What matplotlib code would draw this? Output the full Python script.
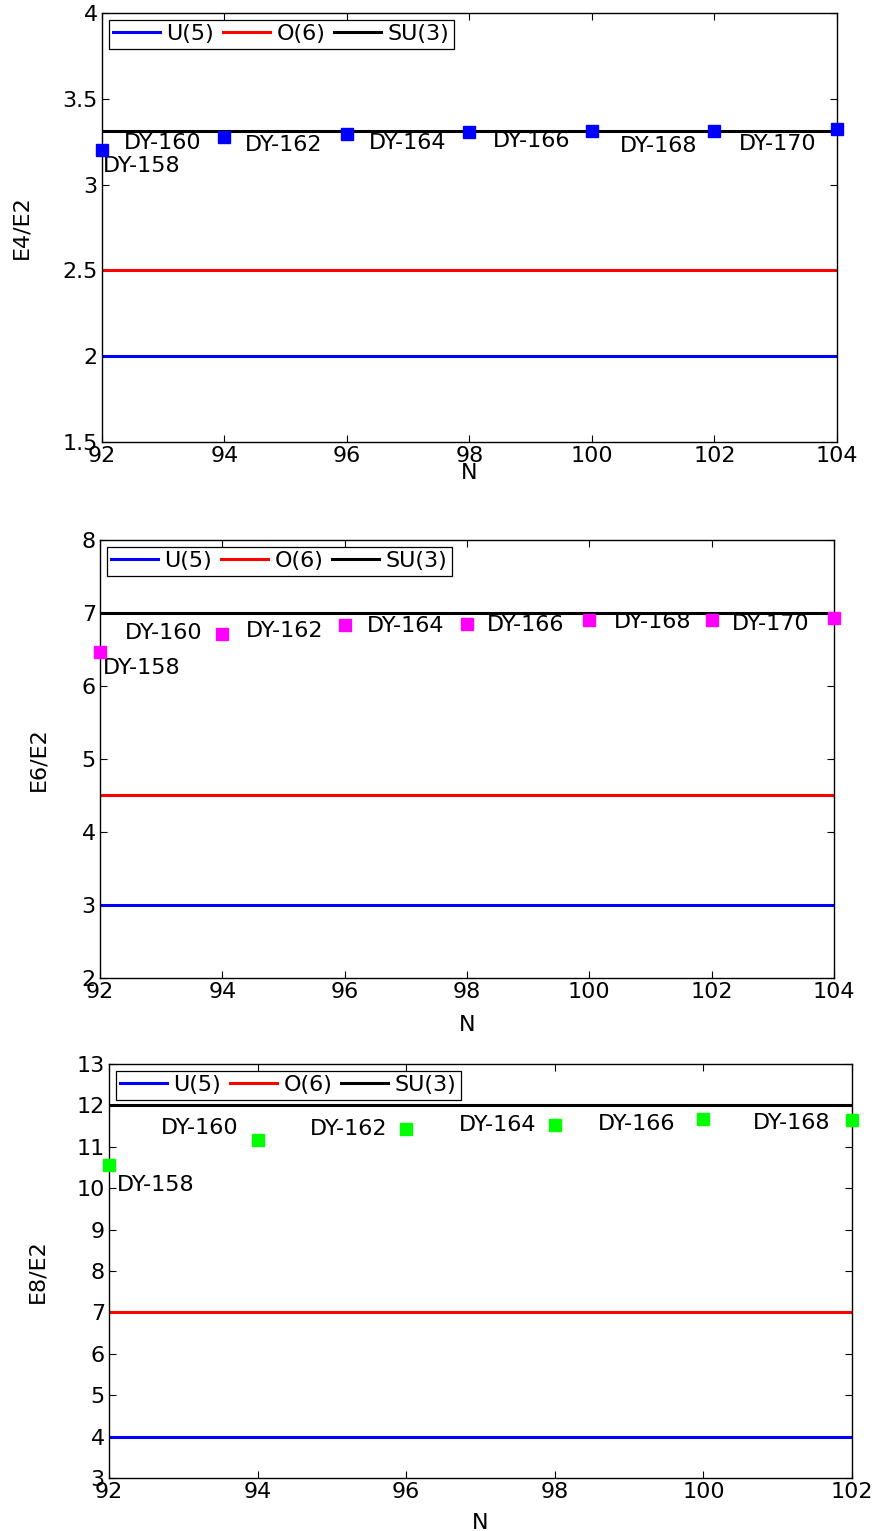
import matplotlib
matplotlib.use("Agg")
import matplotlib.pyplot as plt
import numpy

plt.rcParams['font.family'] = ['DejaVu Sans']
plt.rcParams['font.size'] = 16

# neutron number and limits
N_a = [92, 94, 96, 98, 100, 102, 104]
N_b = [92, 94, 96, 98, 100, 102]
names_a = ['DY-158', 'DY-160', 'DY-162', 'DY-164', 'DY-166', 'DY-168', 'DY-170']
names_b = ['DY-158', 'DY-160', 'DY-162', 'DY-164', 'DY-166', 'DY-168']

# E4/E2
r42 = [3.20, 3.276, 3.297, 3.307, 3.315, 3.31, 3.324]
lim42 = {'U(5)': 2.0, 'O(6)': 2.5, 'SU(3)': 3.31}
lab42_x = [92.02, 92.36, 94.34, 96.35, 98.38, 100.45, 102.4]
lab42_y = [3.107, 3.243, 3.229, 3.243, 3.252, 3.223, 3.239]

# E6/E2
r62 = [6.47, 6.71, 6.83, 6.845, 6.90, 6.90, 6.93]
lim62 = {'U(5)': 3.0, 'O(6)': 4.5, 'SU(3)': 7.0}
lab62_x = [92.05, 92.4, 94.39, 96.36, 98.32, 100.4, 102.33]
lab62_y = [6.24, 6.72, 6.76, 6.82, 6.84, 6.87, 6.85]

# E8/E2
r82 = [10.56, 11.16, 11.44, 11.52, 11.68, 11.66]
lim82 = {'U(5)': 4.0, 'O(6)': 7.0, 'SU(3)': 12.0}
lab82_x = [92.11, 92.7, 94.7, 96.71, 98.58, 100.67]
lab82_y = [10.08, 11.46, 11.44, 11.52, 11.56, 11.58]

line_colors = {'U(5)': 'blue', 'O(6)': 'red', 'SU(3)': 'black'}

fig = plt.figure(figsize=(8.76, 15.31), dpi=100)


def panel(rect, N, ratio, limits, lab_x, lab_y, names, mcolor, ylim, yticks,
          yticklabels, ylabel, ylab_x, xlab_y):
    ax = fig.add_axes(rect)
    for key in ['U(5)', 'O(6)', 'SU(3)']:
        ax.plot(N, [limits[key]] * len(N), color=line_colors[key], lw=2.2, label=key)
    ax.plot(N, ratio, 's', color=mcolor, ms=8.5, mec=mcolor, clip_on=False, zorder=5)
    for x, y, t in zip(lab_x, lab_y, names):
        ax.text(x, y, t, ha='left', va='center', fontsize=16)
    ax.set_xlim(N[0], N[-1])
    ax.set_ylim(*ylim)
    ax.set_xticks(N)
    ax.set_yticks(yticks)
    ax.set_yticklabels(yticklabels)
    ax.tick_params(direction='in', top=True, right=True, length=5, width=0.8,
                   labelsize=16, pad=3)
    for s in ax.spines.values():
        s.set_linewidth(1.0)
    ax.set_xlabel('N', fontsize=16)
    ax.set_ylabel(ylabel, fontsize=16)
    ax.yaxis.set_label_coords(ylab_x, 0.5)
    ax.xaxis.set_label_coords(0.5, xlab_y)
    leg = ax.legend(loc='upper left', ncol=3, fontsize=16, handlelength=2.1,
                    handletextpad=0.3, columnspacing=0.4, borderpad=0.2,
                    borderaxespad=0.3, fancybox=False, framealpha=1)
    leg.get_frame().set_edgecolor('black')
    leg.get_frame().set_linewidth(0.9)
    return ax


panel([0.1164, 0.7113, 0.839, 0.2802], N_a, r42, lim42, lab42_x, lab42_y, names_a,
      'blue', (1.5, 4), [1.5, 2, 2.5, 3, 3.5, 4], ['1.5', '2', '2.5', '3', '3.5', '4'],
      'E4/E2', -0.096, -0.05)

panel([0.1142, 0.3612, 0.8379, 0.2861], N_a, r62, lim62, lab62_x, lab62_y, names_a,
      'magenta', (2, 8), [2, 3, 4, 5, 6, 7, 8], ['2', '3', '4', '5', '6', '7', '8'],
      'E6/E2', -0.07, -0.084)

panel([0.1244, 0.0346, 0.8482, 0.2704], N_b, r82, lim82, lab82_x, lab82_y, names_b,
      (0, 1, 0), (3, 13), list(range(3, 14)), [str(v) for v in range(3, 14)],
      'E8/E2', -0.083, -0.085)

plt.savefig('out.png', dpi=100)
